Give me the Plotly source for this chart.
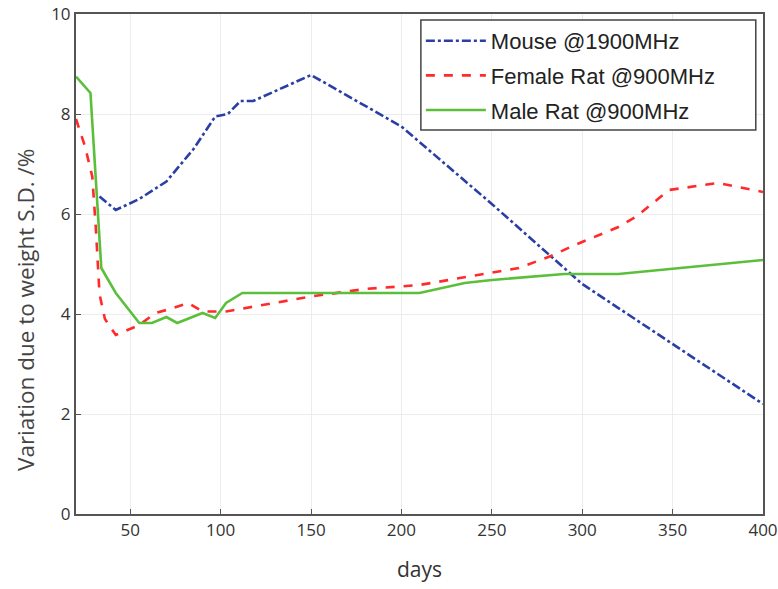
import plotly.graph_objects as go

mouse_x = [33, 42, 55, 70, 85, 97, 104, 111, 118, 150, 200, 250, 300, 400]
mouse_y = [6.35, 6.08, 6.3, 6.65, 7.3, 7.95, 8.0, 8.26, 8.26, 8.78, 7.75, 6.2, 4.6, 2.2]

female_x = [20, 25, 29, 31, 33, 36, 42, 55, 64, 72, 82, 90, 103, 150, 180, 210, 265, 282, 296, 320, 330, 348, 375, 400]
female_y = [7.9, 7.35, 6.75, 5.7, 4.4, 3.9, 3.58, 3.78, 4.02, 4.1, 4.22, 4.05, 4.05, 4.35, 4.5, 4.58, 4.92, 5.15, 5.38, 5.74, 5.95, 6.48, 6.62, 6.44]

male_x = [20, 28, 34, 42, 55, 62, 70, 76, 90, 97, 103, 112, 210, 235, 250, 290, 320, 400]
male_y = [8.75, 8.42, 4.92, 4.42, 3.82, 3.82, 3.94, 3.82, 4.02, 3.92, 4.22, 4.42, 4.42, 4.62, 4.68, 4.8, 4.8, 5.08]

x_ticks = [50, 100, 150, 200, 250, 300, 350, 400]
y_ticks = [0, 2, 4, 6, 8, 10]

fig = go.Figure()
fig.add_trace(go.Scatter(x=mouse_x, y=mouse_y, mode="lines", name="Mouse @1900MHz", legendgroup="a",
                         line=dict(color="#2a3fa6", width=2.6, dash="dashdot")))
fig.add_trace(go.Scatter(x=female_x, y=female_y, mode="lines", name="Female Rat @900MHz", legendgroup="b",
                         line=dict(color="#ff2a2a", width=2.6, dash="dash")))
fig.add_trace(go.Scatter(x=male_x, y=male_y, mode="lines", name="Male Rat @900MHz", legendgroup="c",
                         line=dict(color="#5cbf3c", width=2.6)))

axis_common = dict(showline=True, linecolor="#555555", linewidth=2, mirror=True,
                   ticks="inside", ticklen=5, tickcolor="#555555",
                   showgrid=True, gridcolor="#ececec", gridwidth=1, zeroline=False,
                   automargin=False,
                   tickfont=dict(family="Open Sans", size=17, color="#333333"))

fig.update_xaxes(range=[20, 400], tickvals=x_ticks,
                 title=dict(text="days", font=dict(family="Open Sans", size=21, color="#333333"), standoff=22),
                 **axis_common)
fig.update_yaxes(range=[0, 10], tickvals=y_ticks, **axis_common)

# y-axis title (placed lower than centre, as in the reference)
fig.add_annotation(text="Variation due to weight S.D. /%", textangle=-90,
                   xref="paper", yref="paper", x=-0.0742, y=0.408,
                   xanchor="center", yanchor="middle", showarrow=False,
                   font=dict(family="Open Sans", size=22.5, color="#444444"))

# legend frame (MATLAB-style box, wider than the legend content)
fig.add_shape(type="rect", xref="paper", yref="paper",
              x0=0.502, x1=0.9895, y0=0.768, y1=0.988,
              line=dict(color="#444444", width=1.5), fillcolor="white", layer="above")

fig.update_layout(
    width=778, height=589,
    margin=dict(l=76, r=15, t=14, b=75),
    plot_bgcolor="white", paper_bgcolor="white",
    legend=dict(x=0.502, y=0.988, xanchor="left", yanchor="top",
                borderwidth=0, bgcolor="rgba(0,0,0,0)",
                font=dict(family="Liberation Sans", size=22, color="#222222"),
                tracegroupgap=3, itemwidth=60),
)

fig.write_html("out.html", config={"displayModeBar": False},
               post_script="document.body.style.margin='0';document.body.style.overflow='hidden';")
